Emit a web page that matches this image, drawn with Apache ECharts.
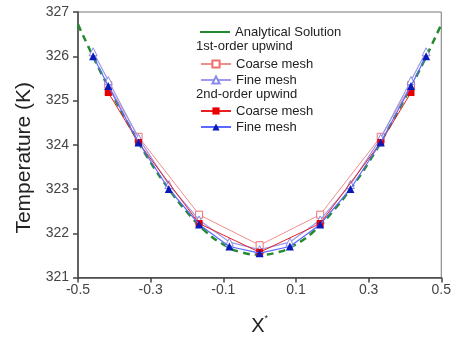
<!DOCTYPE html>
<html><head><meta charset="utf-8">
<script src="https://cdn.jsdelivr.net/npm/echarts@6/dist/echarts.min.js"></script>
<style>html,body{margin:0;padding:0;background:#fff}#c{width:454px;height:341px}</style>
</head><body><div id="c"></div>
<script>
const xAnalytical = [-0.5,-0.45,-0.4,-0.35,-0.3,-0.25,-0.2,-0.15,-0.1,-0.05,0,0.05,0.1,0.15,0.2,0.25,0.3,0.35,0.4,0.45,0.5];
const tAnalytical = [326.72,325.85,325.05,324.3,323.6,323.0,322.48,322.05,321.75,321.57,321.52,321.57,321.75,322.05,322.48,323.0,323.6,324.3,325.05,325.85,326.72];
const xFine = [-0.4583,-0.4167,-0.3333,-0.25,-0.1667,-0.0833,0,0.0833,0.1667,0.25,0.3333,0.4167,0.4583];
const xCoarse = [-0.4167,-0.3333,-0.1667,0,0.1667,0.3333,0.4167];
const tCoarse1 = [325.35,324.18,322.42,321.73,322.42,324.18,325.35];
const tFine1 = [326.1,325.45,324.15,323.1,322.3,321.8,321.63,321.8,322.3,323.1,324.15,325.45,326.1];
const tCoarse2 = [325.18,324.05,322.22,321.57,322.22,324.05,325.18];
const tFine2 = [326.0,325.33,324.05,323.0,322.2,321.7,321.55,321.7,322.2,323.0,324.05,325.33,326.0];
const xTicks = [-0.5,-0.3,-0.1,0.1,0.3,0.5];
const yTicks = [321,322,323,324,325,326,327];

const pair = (xs, ys) => xs.map((x, i) => [x, ys[i]]);
const font = 'Liberation Sans, Arial, sans-serif';
const names = {a:'Analytical Solution', c1:'Coarse mesh ', f1:'Fine mesh ', c2:'Coarse mesh', f2:'Fine mesh'};
const legText = {fontSize: 13, fontFamily: font, color: '#222', lineHeight: 14};

const chart = echarts.init(document.getElementById('c'));
chart.setOption({
  animation: false,
  grid: {left: 78, right: 11, top: 12, bottom: 63, show: true, borderColor: '#777', borderWidth: 1},
  xAxis: {
    type: 'value', min: xTicks[0], max: xTicks[xTicks.length-1], interval: 0.2,
    axisLine: {onZero: false, lineStyle: {color: '#444', width: 1.5}},
    axisTick: {length: 5, lineStyle: {color: '#444', width: 1.5}},
    axisLabel: {color: '#444', fontSize: 14, fontFamily: font, margin: 6,
      formatter: v => (+v).toFixed(1)},
    splitLine: {show: false},
    name: 'X{s|*}', nameLocation: 'middle', nameGap: 37,
    nameTextStyle: {fontSize: 20, fontFamily: font, color: '#222',
      rich: {s: {fontSize: 9, verticalAlign: 'top', padding: [0,0,14,0], color: '#222'}}}
  },
  yAxis: {
    type: 'value', min: yTicks[0], max: yTicks[yTicks.length-1], interval: 1,
    axisLine: {show: true, onZero: false, lineStyle: {color: '#444', width: 1.5}},
    axisTick: {show: true, length: 5, lineStyle: {color: '#444', width: 1.5}},
    axisLabel: {color: '#444', fontSize: 14, fontFamily: font, margin: 9},
    splitLine: {show: false},
    name: 'Temperature (K)', nameLocation: 'middle', nameGap: 43,
    nameTextStyle: {fontSize: 21, fontFamily: font, color: '#222', padding: [0, 26, 0, 0]}
  },
  legend: [
    {orient: 'vertical', left: 195, top: 20, itemWidth: 30, itemHeight: 2, icon: 'rect', itemGap: 2,
     data: [names.a], textStyle: legText},
    {orient: 'vertical', left: 195, top: 52, itemWidth: 30, itemHeight: 9, itemGap: 2,
     data: [names.c1, names.f1], formatter: n => n.trim(), textStyle: legText},
    {orient: 'vertical', left: 195, top: 99, itemWidth: 30, itemHeight: 9, itemGap: 2,
     data: [names.c2, names.f2], formatter: n => n.trim(), textStyle: legText}
  ],
  graphic: [
    {type: 'text', left: 196, top: 40, style: {text: '1st-order upwind', fontSize: 13, fontFamily: font, fill: '#222'}},
    {type: 'text', left: 196, top: 88, style: {text: '2nd-order upwind', fontSize: 13, fontFamily: font, fill: '#222'}}
  ],
  series: [
    {name: names.a, type: 'line', smooth: true, showSymbol: false, symbol: 'none',
     data: pair(xAnalytical, tAnalytical), z: 3,
     lineStyle: {color: '#238a2e', width: 2.5, type: [7, 5]}, itemStyle: {color: '#238a2e'}},
    {name: names.c1, type: 'line', data: pair(xCoarse, tCoarse1), symbol: 'rect', symbolSize: 7, z: 4,
     lineStyle: {color: '#f28c8c', width: 1}, itemStyle: {color: '#fff', borderColor: '#f07070', borderWidth: 1}},
    {name: names.f1, type: 'line', data: pair(xFine, tFine1), symbol: 'triangle', symbolSize: 8, z: 5,
     lineStyle: {color: '#9a9af0', width: 1.2}, itemStyle: {color: '#fff', borderColor: '#8a8ae8', borderWidth: 1}},
    {name: names.c2, type: 'line', data: pair(xCoarse, tCoarse2), symbol: 'rect', symbolSize: 7, z: 6,
     lineStyle: {color: '#e82020', width: 1}, itemStyle: {color: '#e80000'}},
    {name: names.f2, type: 'line', data: pair(xFine, tFine2), symbol: 'triangle', symbolSize: 8, z: 7,
     lineStyle: {color: '#5a6aff', width: 1.2}, itemStyle: {color: '#0a1ab8'}}
  ]
});
</script></body></html>
